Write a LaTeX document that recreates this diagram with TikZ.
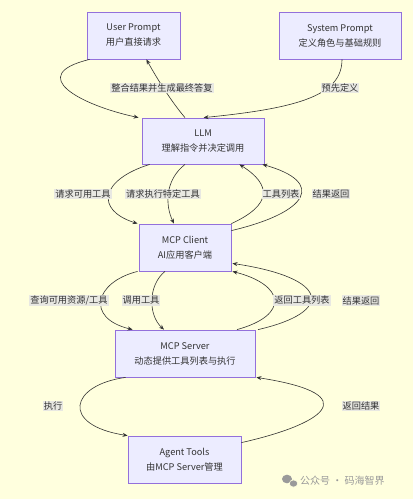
\documentclass[tikz,border=0pt]{standalone}
\usepackage{fontspec}
\setmainfont{Noto Sans CJK SC}
\usetikzlibrary{arrows.meta}
\definecolor{bgc}{HTML}{FFFFDE}
\definecolor{boxfill}{HTML}{ECECFF}
\definecolor{boxline}{HTML}{9370DB}
\definecolor{lblfill}{RGB}{232,232,226}
\definecolor{edgec}{HTML}{333333}
\definecolor{wmc}{HTML}{9A9A9A}
\tikzset{
  box/.style={draw=boxline, fill=boxfill, line width=0.8pt, align=center, inner sep=0pt,
    font=\fontsize{9.2}{15}\selectfont, text=black!80},
  lbl/.style={fill=lblfill, inner sep=1pt, font=\fontsize{9.2}{11}\selectfont, text=black!80},
  edge/.style={draw=edgec, line width=0.6pt, -{Stealth[length=5pt,width=4pt]}},
}
\begin{document}
\begin{tikzpicture}[x=1pt,y=-1pt]
\fill[bgc] (0,0) rectangle (413,499);
\useasboundingbox (0,0) rectangle (413,499);
% boxes
\node[box, minimum width=93pt, minimum height=47pt] (user) at (133.5,35.5) {User Prompt\\用户直接请求};
\node[box, minimum width=122pt, minimum height=47pt] (sys) at (340,35.5) {System Prompt\\定义角色与基础规则};
\node[box, minimum width=122pt, minimum height=46pt] (llm) at (203,141) {LLM\\理解指令并决定调用};
\node[box, minimum width=92pt, minimum height=47pt] (client) at (185,247.5) {MCP Client\\AI应用客户端};
\node[box, minimum width=140pt, minimum height=47pt] (server) at (185,353.5) {MCP Server\\动态提供工具列表与执行};
\node[box, minimum width=113pt, minimum height=47pt] (tools) at (184.5,459.5) {Agent Tools\\由MCP Server管理};
% anchor coordinates
\coordinate (u1) at ([xshift=3pt]user.south west);
\coordinate (u2) at ([xshift=-34pt]user.south east);
\coordinate (s1) at ([xshift=2pt]sys.south);
\coordinate (l1) at ([xshift=-3pt]llm.north west);
\coordinate (l2) at ([xshift=-18pt]llm.north);
\coordinate (l3) at ([xshift=62pt]llm.north west);
\coordinate (lb1) at ([xshift=8pt]llm.south west);
\coordinate (lb2) at ([xshift=-18pt]llm.south);
\coordinate (lb3) at ([xshift=-25pt]llm.south east);
\coordinate (lb4) at ([xshift=-2pt]llm.south east);
\coordinate (ct1) at ([xshift=-1pt]client.north west);
\coordinate (ct2) at ([xshift=-11pt]client.north);
\coordinate (ct3) at (client.north east);
\coordinate (ct4) at ([yshift=-7pt]client.north east);
\coordinate (cb1) at ([xshift=-1pt]client.south west);
\coordinate (cb2) at ([xshift=-20pt]client.south);
\coordinate (cb3) at ([xshift=1pt]client.south east);
\coordinate (cb4) at ([xshift=1pt,yshift=8pt]client.south east);
\coordinate (st1) at ([xshift=18pt]server.north west);
\coordinate (st2) at ([xshift=-21pt]server.north);
\coordinate (st3) at ([xshift=52pt]server.north);
\coordinate (st4) at ([xshift=73pt]server.north);
\coordinate (sb1) at ([xshift=11pt]server.south west);
\coordinate (sb2) at ([xshift=1pt]server.south east);
\coordinate (t1) at (tools.north west);
\coordinate (t2) at ([yshift=-7pt]tools.north east);
% edges
\draw[edge] (u1) .. controls (25,75) and (80,105) .. (l1);
\draw[edge] (l2) .. controls (170,100) and (155,75) .. (u2);
\draw[edge] (s1) .. controls (342,95) and (300,108) .. (l3);
\draw[edge] (lb1) .. controls (100,180) and (95,210) .. (ct1);
\draw[edge] (lb2) .. controls (165,180) and (165,205) .. (ct2);
\draw[edge] (ct3) .. controls (272,205) and (272,185) .. (lb3);
\draw[edge] (ct4) .. controls (310,212) and (325,182) .. (lb4);
\draw[edge] (cb1) .. controls (95,282) and (85,318) .. (st1);
\draw[edge] (cb2) .. controls (148,285) and (148,315) .. (st2);
\draw[edge] (st3) .. controls (290,315) and (285,285) .. (cb3);
\draw[edge] (st4) .. controls (335,312) and (330,278) .. (cb4);
\draw[edge] (sb1) .. controls (70,385) and (60,425) .. (t1);
\draw[edge] (t2) .. controls (320,425) and (370,395) .. (sb2);
% labels
\node[lbl] (e1) at (162,88) {整合结果并生成最终答复};
\node[lbl] (e2) at (340,88) {预先定义};
\node[lbl] (e3) at (83,194) {请求可用工具};
\node[lbl] (e4) at (163,194) {请求执行特定工具};
\node[lbl] (e5) at (281,194) {工具列表};
\node[lbl] (e6) at (331,194) {结果返回};
\node[lbl] (e7) at (69,300.5) {查询可用资源/工具};
\node[lbl] (e8) at (141,300.5) {调用工具};
\node[lbl] (e9) at (302,300.5) {返回工具列表};
\node[lbl] (e10) at (361,300.5) {结果返回};
\node[lbl] (e11) at (53,406) {执行};
\node[lbl] (e12) at (361,406) {返回结果};
% watermark
\fill[wmc] (287,479) ellipse (5pt and 4.3pt);
\fill[wmc] (293.5,483.5) ellipse (4.2pt and 3.6pt);
\draw[bgc, line width=0.6pt] (293.5,483.5) ellipse (4.2pt and 3.6pt);
\node[font=\fontsize{10}{12}\selectfont, text=wmc, anchor=west, inner sep=0pt] (wm) at (300,481) {公众号 · 码海智界};
\end{tikzpicture}
\end{document}
